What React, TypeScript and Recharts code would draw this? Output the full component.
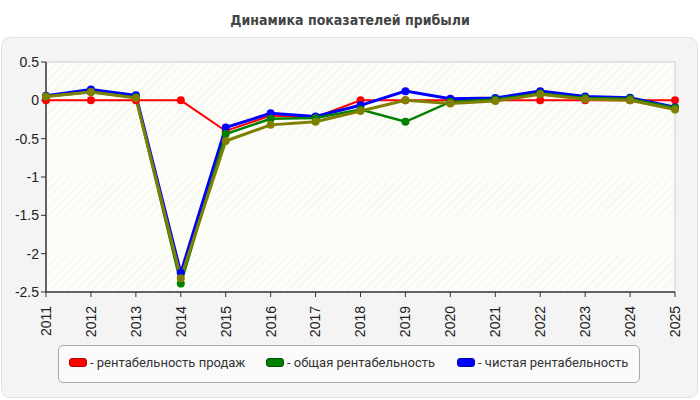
import React from "react";
import {
  LineChart, Line, XAxis, YAxis, CartesianGrid, ReferenceArea, ReferenceLine,
} from "recharts";

// ── Data ──────────────────────────────────────────────────────────────────
const years = ["2011", "2012", "2013", "2014", "2015", "2016", "2017", "2018",
  "2019", "2020", "2021", "2022", "2023", "2024", "2025"];
const salesRent = [0, 0, 0, 0, -0.40, -0.20, -0.22, 0, 0, 0, 0, 0, 0, 0, 0];
const totalRent = [0.05, 0.11, 0.04, -2.39, -0.44, -0.24, -0.23, -0.12, -0.28, -0.02, 0.01, 0.09, 0.03, 0.02, -0.10];
const netRent = [0.06, 0.14, 0.065, -2.25, -0.355, -0.17, -0.21, -0.065, 0.12, 0.02, 0.03, 0.12, 0.05, 0.035, -0.09];
const otherRent = [0.05, 0.11, 0.03, -2.32, -0.53, -0.32, -0.28, -0.14, 0, -0.04, -0.01, 0.08, 0.015, 0, -0.12];
const yTicks = [0.5, 0, -0.5, -1, -1.5, -2, -2.5];

const legendItems = [
  { label: "- рентабельность продаж", colour: "#ff0000", border: "#b00000" },
  { label: "- общая рентабельность", colour: "#008000", border: "#005000" },
  { label: "- чистая рентабельность", colour: "#0000ff", border: "#0000a0" },
];

const data = years.map((y, i) => ({
  year: y, sales: salesRent[i], total: totalRent[i], net: netRent[i], other: otherRent[i],
}));

const FONT = "'Liberation Sans', Arial, sans-serif";
const TITLE_FONT = "'DejaVu Sans Condensed', 'DejaVu Sans', sans-serif";
const LEGEND_FONT = "Roboto, 'Noto Sans', sans-serif";

function YearTick({ x, y, payload }: any) {
  return (
    <text transform={`translate(${x},${y + 7}) rotate(-90)`} textAnchor="end" dy="0.35em"
      fontFamily={FONT} fontSize={14} fill="#222">
      {payload.value}
    </text>
  );
}

export default function App() {
  return (
    <div style={{ position: "absolute", left: 0, top: 0, width: 700, height: 400, background: "#fff", overflow: "hidden" }}>
      <div style={{ position: "absolute", left: 0, top: 12, width: 700, textAlign: "center", fontFamily: TITLE_FONT, fontWeight: "bold", fontSize: 14, color: "#444" }}>
        Динамика показателей прибыли
      </div>
      <div style={{ position: "absolute", left: 1, top: 37, width: 695, height: 359, background: "#f4f4f4", border: "1px solid #e2e2e2", borderRadius: 9 }} />

      <div style={{ position: "absolute", left: 0, top: 0 }}>
        <LineChart width={700} height={400} data={data} margin={{ top: 62, right: 25, bottom: 58, left: 0 }}>
          <defs>
            <pattern id="hatch" width="6" height="6" patternUnits="userSpaceOnUse" patternTransform="rotate(45)">
              <rect width="6" height="6" fill="#fdfdf8" />
              <line x1="0" y1="0" x2="0" y2="6" stroke="#efefef" strokeWidth="1.5" />
            </pattern>
          </defs>
          <ReferenceArea y1={0.5} y2={-2.5} fill="url(#hatch)" fillOpacity={1} stroke="none" ifOverflow="visible" />
          <ReferenceArea y1={-0.5} y2={-1} fill="#fdfdf7" fillOpacity={1} stroke="none" />
          <ReferenceArea y1={-1.5} y2={-2} fill="#fdfdf7" fillOpacity={1} stroke="none" />
          <CartesianGrid stroke="#dcdcdc" strokeDasharray="6 4" />
          <ReferenceLine y={0.5} stroke="#dddddd" strokeWidth={1.5} />
          <ReferenceLine x="2025" stroke="#dddddd" strokeWidth={1.5} />
          <XAxis dataKey="year" height={50} interval={0} tick={<YearTick />}
            axisLine={{ stroke: "#333", strokeWidth: 1.5 }} tickLine={{ stroke: "#333" }} tickSize={5} />
          <YAxis width={46} domain={[-2.5, 0.5]} ticks={yTicks} interval={0}
            tick={{ fontFamily: FONT, fontSize: 14, fill: "#222" }}
            axisLine={{ stroke: "#333", strokeWidth: 1.5 }} tickLine={{ stroke: "#333" }} tickSize={5} />
          <Line dataKey="sales" stroke="#ff0000" strokeWidth={2} dot={{ r: 4, fill: "#ff0000", stroke: "#ff0000", strokeWidth: 0 }} isAnimationActive={false} />
          <Line dataKey="net" stroke="#0000ff" strokeWidth={3} dot={{ r: 4, fill: "#0000ff", stroke: "#0000ff", strokeWidth: 0 }} isAnimationActive={false} />
          <Line dataKey="total" stroke="#008000" strokeWidth={2.5} dot={{ r: 4, fill: "#008000", stroke: "#008000", strokeWidth: 0 }} isAnimationActive={false} />
          <Line dataKey="other" stroke="#808000" strokeWidth={3} dot={{ r: 4, fill: "#808000", stroke: "#808000", strokeWidth: 0 }} isAnimationActive={false} />
        </LineChart>
      </div>

      <div style={{ position: "absolute", left: 58, top: 345, width: 580, height: 36, background: "#fafafa", border: "1px solid #aaa", borderRadius: 5 }}>
        {legendItems.map((it, i) => (
          <div key={it.label} style={{ position: "absolute", left: [10, 207, 398][i], top: 9, display: "flex", alignItems: "center", fontFamily: LEGEND_FONT, fontSize: 13, color: "#333", whiteSpace: "nowrap" }}>
            <span style={{ display: "inline-block", width: 16, height: 7, background: it.colour, border: `1px solid ${it.border}`, borderRadius: 3, marginRight: 3 }} />
            {it.label}
          </div>
        ))}
      </div>
    </div>
  );
}
